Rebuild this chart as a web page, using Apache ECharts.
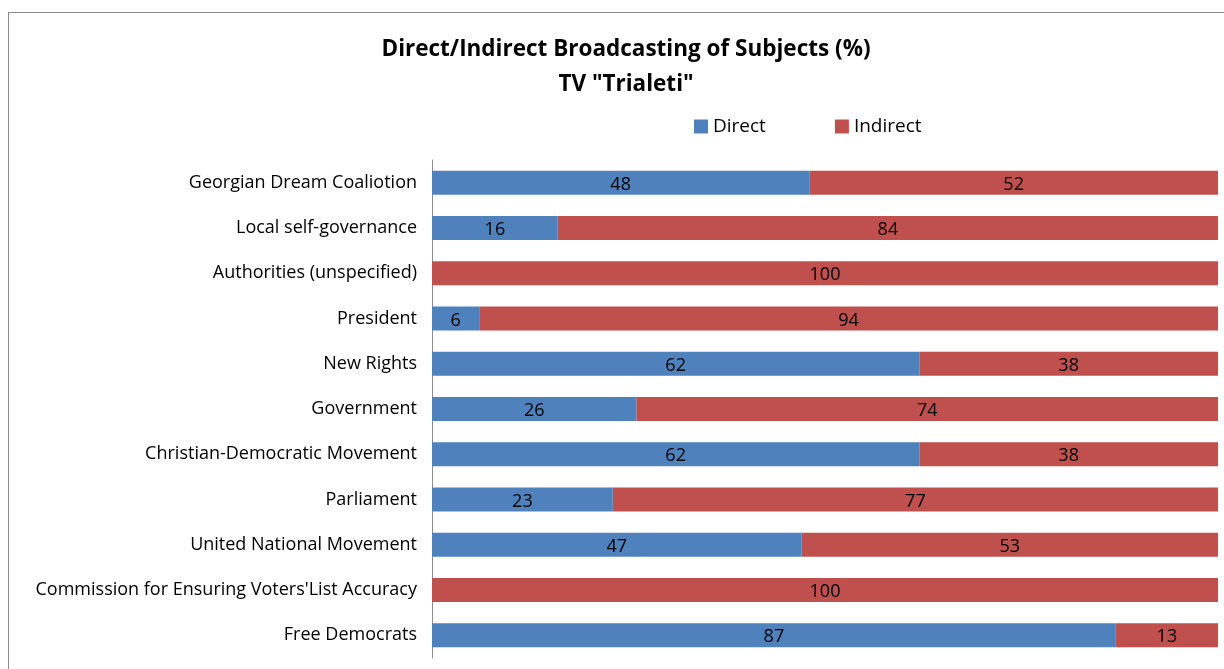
<!DOCTYPE html>
<html><head><meta charset="utf-8">
<script src="https://cdn.jsdelivr.net/npm/echarts@6/dist/echarts.min.js"></script>
<style>
html,body{margin:0;padding:0;background:#fff;overflow:hidden}
#frame{position:absolute;left:8px;top:12px;width:1300px;height:700px;border-top:1px solid #8c8c8c;border-left:1px solid #8c8c8c}
#main{position:absolute;left:0;top:0;width:1224px;height:669px}
</style></head>
<body>
<div id="frame"></div>
<div id="main"></div>
<script>
const categories = ["Georgian Dream Coaliotion","Local self-governance","Authorities (unspecified)","President","New Rights","Government","Christian-Democratic Movement","Parliament","United National Movement","Commission for Ensuring Voters'List Accuracy","Free Democrats"];
const directValues = [48,16,0,6,62,26,62,23,47,0,87];
const indirectValues = [52,84,100,94,38,74,38,77,53,100,13];
const seriesNames = ["Direct","Indirect"];
const titleLines = ["Direct/Indirect Broadcasting of Subjects (%)", "TV \"Trialeti\""];

const font = "'Open Sans', 'Noto Sans', sans-serif";
const chart = echarts.init(document.getElementById('main'), null, {renderer:'canvas'});
const lbl = {
  show:true, position:'inside', color:'#000', fontFamily:font, fontSize:18, offset:[0,2],
  formatter: p => p.value ? String(p.value) : ''
};
chart.setOption({
  animation:false,
  backgroundColor:'transparent',
  title:{
    text: titleLines[0] + '\n' + titleLines[1],
    left: 621, top: 27, textAlign:'center',
    textStyle:{fontFamily:font, fontWeight:'bold', fontSize:22.5, color:'#000', lineHeight:35}
  },
  legend:{
    data: seriesNames, top: 112, left: 689,
    itemWidth:14, itemHeight:14, itemGap:69, icon:'rect',
    textStyle:{fontFamily:font, fontSize:19, color:'#000'}
  },
  grid:{left:432, right:6, top:160, bottom:11, containLabel:false},
  xAxis:{type:'value', min:0, max:100, show:false},
  yAxis:{
    type:'category', data:categories, inverse:true,
    axisLine:{show:true, lineStyle:{color:'#8c8c8c', width:1}},
    axisTick:{show:false},
    axisLabel:{fontFamily:font, fontSize:18, color:'#000', margin:15, padding:[5,0,0,0]}
  },
  series:[
    {name:seriesNames[0], type:'bar', stack:'s', data:directValues, barWidth:'53%',
     itemStyle:{color:'#4F81BD'}, label:lbl},
    {name:seriesNames[1], type:'bar', stack:'s', data:indirectValues, barWidth:'53%',
     itemStyle:{color:'#C0504D'}, label:lbl}
  ]
});
</script>
</body></html>
